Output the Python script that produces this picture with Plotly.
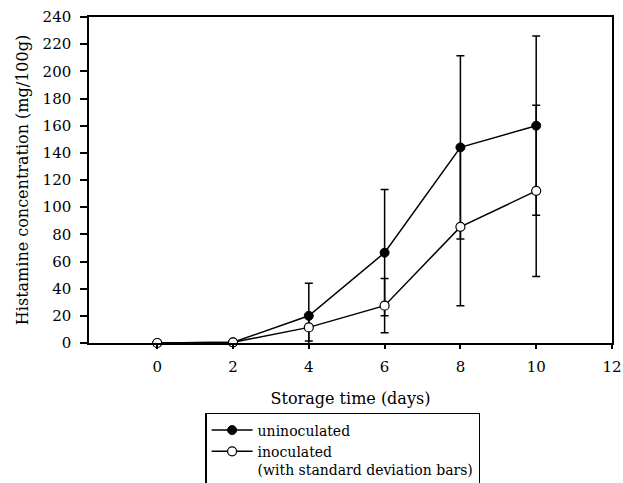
import plotly.graph_objects as go

days = [0, 2, 4, 6, 8, 10]
uninoculated = [0, 0.5, 20, 66.5, 144, 160]
uninoculated_sd = [0, 0, 24, 46.5, 67.5, 66]
inoculated = [0, 0.5, 11.5, 27.5, 85.5, 112]
inoculated_sd = [0, 0, 10, 20, 58, 63]
x_ticks = [0, 2, 4, 6, 8, 10, 12]
y_ticks = list(range(0, 241, 20))

FONT = "DejaVu Serif"

fig = go.Figure()
fig.add_trace(go.Scatter(
    x=days, y=uninoculated, name="uninoculated", mode="lines+markers",
    line=dict(color="black", width=1.5),
    marker=dict(symbol="circle", size=9, color="black", line=dict(color="black", width=1)),
    error_y=dict(type="data", array=uninoculated_sd, visible=True, color="black", thickness=1.5, width=4),
    cliponaxis=False,
))
fig.add_trace(go.Scatter(
    x=days, y=inoculated, name="inoculated<br>(with standard deviation bars)", mode="lines+markers",
    line=dict(color="black", width=1.5),
    marker=dict(symbol="circle", size=9, color="white", line=dict(color="black", width=1.2)),
    error_y=dict(type="data", array=inoculated_sd, visible=True, color="black", thickness=1.5, width=4),
    cliponaxis=False,
))

fig.update_layout(
    width=623, height=483,
    margin=dict(l=89, r=11, t=17, b=140, autoexpand=False),
    paper_bgcolor="white", plot_bgcolor="white",
    font=dict(family=FONT, size=15, color="black"),
    showlegend=True,
    legend=dict(
        x=0.222, y=-0.2147, xanchor="left", yanchor="top",
        bordercolor="black", borderwidth=1.5, bgcolor="white",
        font=dict(family=FONT, size=14, color="black"),
        valign="top", tracegroupgap=0, itemwidth=41,
    ),
    xaxis=dict(
        range=[-1.8, 12], tickvals=x_ticks, ticktext=[str(v) for v in x_ticks],
        showgrid=False, zeroline=False, showline=True, linecolor="black", linewidth=1.5,
        mirror=True, ticks="outside", ticklen=4, tickcolor="black", tickwidth=1.5,
        ticklabelstandoff=5,
        title=dict(text="Storage time (days)", font=dict(family=FONT, size=16), standoff=18),
        tickfont=dict(family=FONT, size=15),
    ),
    yaxis=dict(
        range=[0, 240], tickvals=y_ticks, ticktext=[str(v) for v in y_ticks],
        showgrid=False, zeroline=False, showline=True, linecolor="black", linewidth=1.5,
        mirror=True, ticks="outside", ticklen=7, tickcolor="black", tickwidth=1.5,
        ticklabelstandoff=6,
        title=dict(text="Histamine concentration (mg/100g)", font=dict(family=FONT, size=16), standoff=10),
        tickfont=dict(family=FONT, size=15),
    ),
)

fig.write_html(
    "out.html",
    config={"displayModeBar": False},
    post_script="document.body.style.margin='0';document.body.style.padding='0';",
)
